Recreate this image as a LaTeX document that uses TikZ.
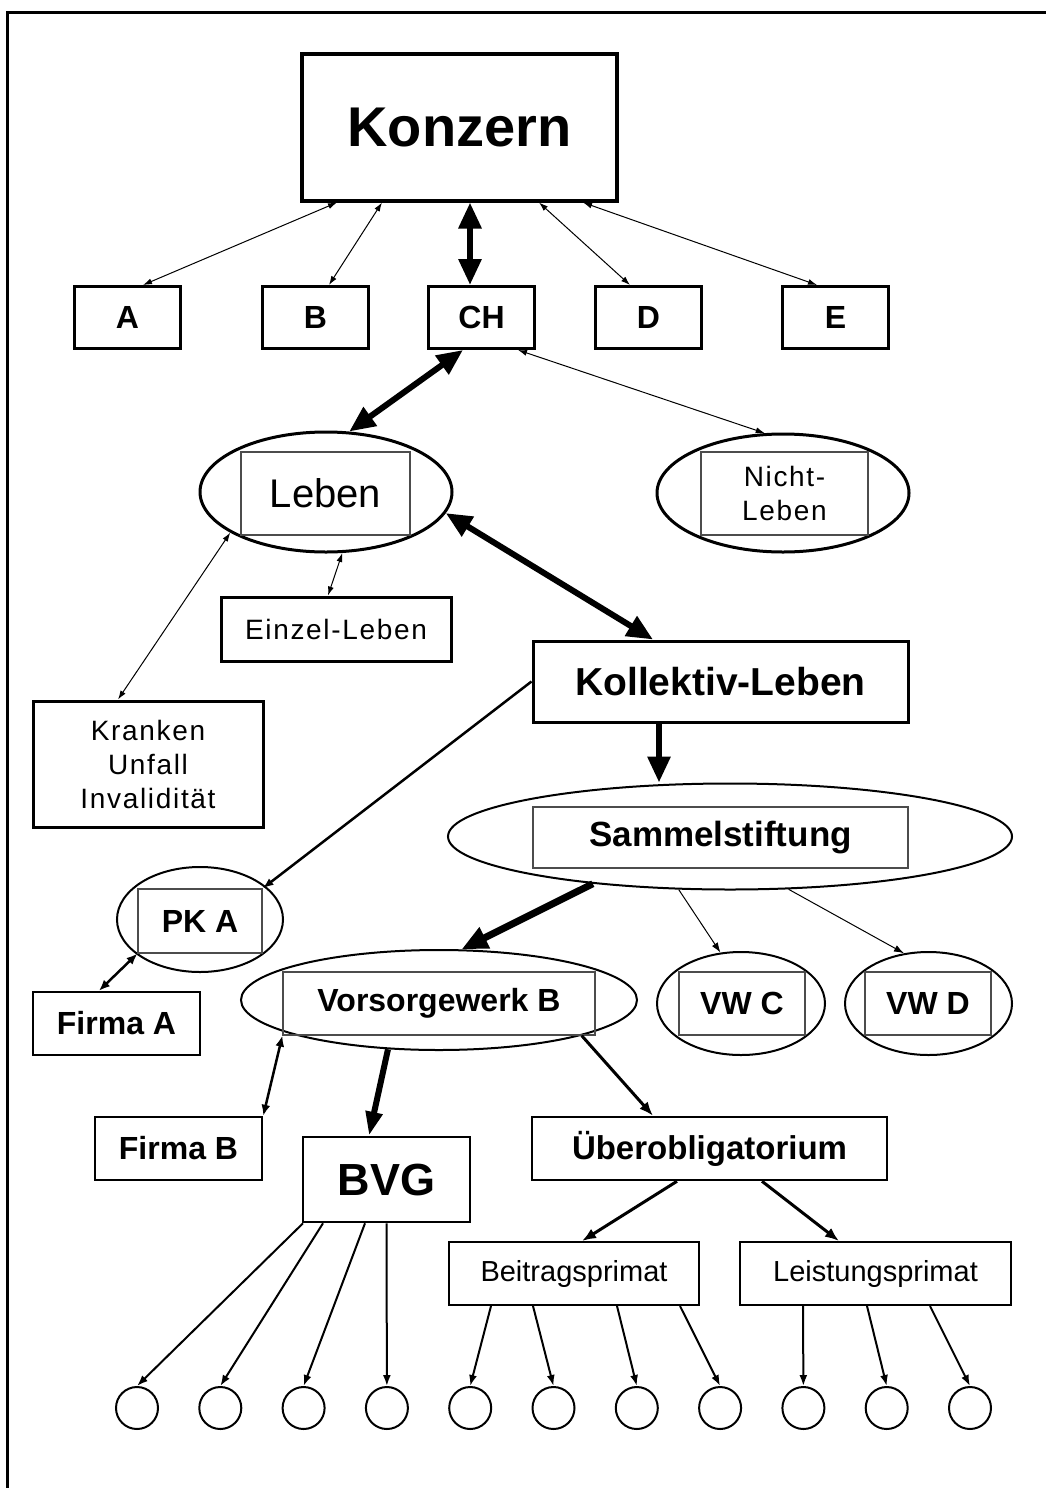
\documentclass[tikz,border=0pt]{standalone}
\usepackage{fontspec}
\setmainfont{Liberation Sans}
\newfontfamily\spaced[LetterSpace=6]{Liberation Sans}
\usetikzlibrary{arrows.meta,shapes.geometric}
\tikzset{box/.style={draw, line width=3pt, inner sep=0pt, minimum height=62pt, font=\bfseries\fontsize{32}{36}\selectfont},
  oval/.style={ellipse, draw, line width=2pt, inner sep=0pt},
  inbox/.style={draw=black!70, line width=1.2pt, inner sep=0pt, font=\bfseries\fontsize{32}{36}\selectfont},
  leaf/.style={circle, draw, line width=2pt, minimum size=42pt, inner sep=0pt},
  linkdbl/.style={line width=1pt, <->, >={Latex[length=9pt,width=6pt]}},
  linkdblmid/.style={line width=2.5pt, <->, >={Latex[length=11pt,width=9pt]}},
  linkdblfat/.style={line width=6pt, <->, >={Triangle[length=26pt,width=22pt]}},
  linkthin/.style={line width=1pt, ->, >={Latex[length=10pt,width=7pt]}},
  linkmid/.style={line width=2pt, ->, >={Latex[length=11pt,width=8pt]}},
  linkfat/.style={line width=6pt, ->, >={Triangle[length=26pt,width=22pt]}}}

\begin{document}
\begin{tikzpicture}[x=1pt, y=-1pt]
  \useasboundingbox (0,0) rectangle (1046,1488);
  \draw[line width=3pt] (7,1488) |- (1046,13);

  % Konzern and countries
  \node[box, line width=4pt, minimum width=315pt, minimum height=146pt, font=\bfseries\fontsize{56}{60}\selectfont] (konzern) at (459.5,127.5) {Konzern};
  \node[box, minimum width=106pt] (a) at (127.5,317.5) {A};
  \node[box, minimum width=106pt] (b) at (315.5,317.5) {B};
  \node[box, minimum width=106pt] (ch) at (481.5,317.5) {CH};
  \node[box, minimum width=106pt] (d) at (648.5,317.5) {D};
  \node[box, minimum width=106pt] (e) at (835.5,317.5) {E};

  % Leben / Nicht-Leben
  \node[oval, line width=3pt, minimum width=252pt, minimum height=120pt] (leben) at (326,492) {};
  \node[inbox, minimum width=169pt, minimum height=83pt, font=\fontsize{40}{44}\selectfont] (leben-in) at (325.5,493.5) {Leben};
  \node[oval, line width=3pt, minimum width=252pt, minimum height=118pt] (nleben) at (783,493) {};
  \node[inbox, minimum width=167pt, minimum height=83pt, align=center, font=\spaced\fontsize{28}{34}\selectfont] (nleben-in) at (784.5,493.5) {Nicht-\\Leben};
  \node[box, minimum width=230pt, minimum height=64pt, font=\spaced\fontsize{28}{30}\selectfont] (einzel) at (336,629) {Einzel-Leben};
  \node[box, minimum width=230pt, minimum height=126pt, align=center, font=\spaced\fontsize{28}{34}\selectfont] (kranken) at (148,764) {Kranken\\Unfall\\Invalidität};
  \node[box, minimum width=375pt, minimum height=81pt, font=\bfseries\fontsize{39}{44}\selectfont] (kollektiv) at (720.5,681.5) {Kollektiv-Leben};

  % Sammelstiftung and Vorsorgewerke
  \node[oval, minimum width=564pt, minimum height=106pt] (sammel) at (730,836.5) {};
  \node[inbox, minimum width=375pt, minimum height=61pt, font=\bfseries\fontsize{35}{40}\selectfont] (sammel-in) at (720.5,837.5) {Sammelstiftung};
  \node[oval, minimum width=166pt, minimum height=105pt] (pka) at (200,919.5) {};
  \node[inbox, minimum width=124pt, minimum height=64pt] (pka-in) at (200,921) {PK A};
  \node[box, line width=2.5pt, minimum width=167pt, minimum height=63pt] (firmaa) at (116.5,1023.5) {Firma A};
  \node[oval, minimum width=396pt, minimum height=100pt] (vwb) at (439,1000) {};
  \node[inbox, minimum width=312pt, minimum height=63pt] (vwb-in) at (439,1003.5) {Vorsorgewerk B};
  \node[oval, minimum width=168pt, minimum height=103pt] (vwc) at (741,1003.5) {};
  \node[inbox, minimum width=126pt, minimum height=63pt] (vwc-in) at (742,1003.5) {VW C};
  \node[oval, minimum width=167pt, minimum height=103pt] (vwd) at (928.5,1003.5) {};
  \node[inbox, minimum width=126pt, minimum height=63pt] (vwd-in) at (928,1003.5) {VW D};

  % BVG / Ueberobligatorium
  \node[box, line width=2.5pt, minimum width=167pt, minimum height=63pt] (firmab) at (178.5,1148.5) {Firma B};
  \node[box, line width=2.5pt, minimum width=167pt, minimum height=85pt, font=\bfseries\fontsize{45}{50}\selectfont] (bvg) at (386.5,1179.5) {BVG};
  \node[box, line width=2.5pt, minimum width=355pt, minimum height=63pt, font=\bfseries\fontsize{33}{38}\selectfont] (ueber) at (709.5,1148.5) {Überobligatorium};
  \node[box, line width=2pt, minimum width=250pt, minimum height=63pt, font=\fontsize{29}{34}\selectfont] (beitrag) at (574,1273.5) {Beitragsprimat};
  \node[box, line width=2pt, minimum width=271pt, minimum height=63pt, font=\fontsize{29}{34}\selectfont] (leist) at (875.5,1273.5) {Leistungsprimat};
  \foreach \i in {1,...,11}
    \node[leaf] (c\i) at ({137+83.3*(\i-1)},1408) {};

  % connectors
  \draw[linkdbl] ([xshift=-122.5pt]konzern.south) -- ([xshift=15.5pt]a.north);
  \draw[linkdbl] ([xshift=-77.5pt]konzern.south) -- ([xshift=13.5pt]b.north);
  \draw[linkdblfat] ([xshift=10.5pt]konzern.south) -- ([xshift=-11.5pt]ch.north);
  \draw[linkdbl] ([xshift=79.5pt]konzern.south) -- ([xshift=-18.5pt]d.north);
  \draw[linkdbl] ([xshift=123.5pt]konzern.south) -- ([xshift=-18.5pt]e.north);
  \draw[linkdblfat] ([xshift=-18.5pt]ch.south) -- (leben.69);
  \draw[linkdbl] ([xshift=36.5pt]ch.south) -- (nleben.107);
  \draw[linkdbl] (leben.285) -- ([xshift=-8pt]einzel.north);
  \draw[linkdblfat] (leben.350) -- ([xshift=-67.5pt]kollektiv.north);
  \draw[linkdbl] (leben.203) -- ([xshift=-30pt]kranken.north);
  \coordinate (kdown) at ([xshift=-61.5pt]kollektiv.south);
  \draw[linkfat] (kdown) -- (kdown |- sammel.north);
  \draw[linkmid, line width=2.5pt] (kollektiv.west) -- (pka-in.north east);
  \draw[linkdblmid] (pka-in.south west) -- ([xshift=-17.5pt]firmaa.north);
  \draw[linkfat, line width=7pt] (sammel.199) -- (vwb.66);
  \draw[linkthin] (sammel.226) -- (vwc.112);
  \draw[linkthin] (sammel.318) -- (vwd.116);
  \draw[linkdblmid] (vwb-in.south west) -- (firmab.north east);
  \draw[linkfat, >={Triangle[length=24pt,width=16pt]}] (vwb.224) -- ([xshift=-17.5pt]bvg.north);
  \draw[linkmid, line width=3pt, >={Latex[length=14pt,width=11pt]}] (vwb.346) -- ([xshift=-56.5pt]ueber.north);
  \draw[linkmid, line width=3pt, >={Latex[length=14pt,width=11pt]}] ([xshift=-32.5pt]ueber.south) -- ([xshift=8pt]beitrag.north);
  \draw[linkmid, line width=3pt, >={Latex[length=14pt,width=11pt]}] ([xshift=52.5pt]ueber.south) -- ([xshift=-36.5pt]leist.north);
  \foreach \s/\i in {-83.5/1, -63.5/2, -21.5/3, 0/4}
    \draw[linkmid] ([xshift=\s pt]bvg.south) -- (c\i.north);
  \foreach \s/\i in {-83/5, -41/6, 43/7, 106/8}
    \draw[linkmid] ([xshift=\s pt]beitrag.south) -- (c\i.north);
  \foreach \s/\i in {-72.5/9, -8.5/10, 54.5/11}
    \draw[linkmid] ([xshift=\s pt]leist.south) -- (c\i.north);
\end{tikzpicture}
\end{document}
